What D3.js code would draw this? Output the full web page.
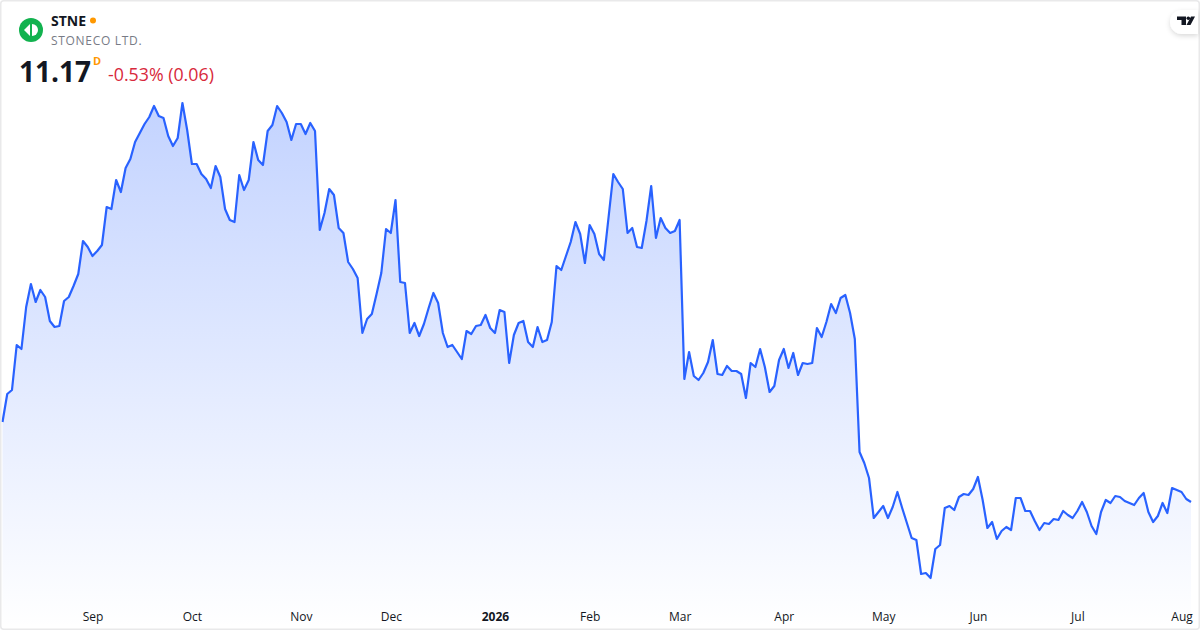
<!DOCTYPE html>
<html>
<head>
<meta charset="utf-8">
<script src="https://cdn.jsdelivr.net/npm/d3@7"></script>
<style>
  html, body { margin: 0; padding: 0; background: #fff; }
  svg { display: block; font-family: "Open Sans", sans-serif; }
</style>
</head>
<body>
<div id="chart"></div>
<script>
const prices = [
  12.77,13.33,13.41,14.31,14.23,15.07,15.53,15.17,15.41,15.27,14.79,14.67,14.69,15.19,15.27,15.49,15.73,16.39,16.27,16.09,
  16.19,16.31,17.07,17.03,17.61,17.37,17.85,18.03,18.37,18.55,18.73,18.87,19.09,18.89,18.85,18.49,18.29,18.45,19.15,18.61,
  17.93,17.93,17.73,17.63,17.45,17.89,17.67,17.03,16.81,16.77,17.71,17.41,17.61,18.37,18.01,17.91,18.59,18.71,19.09,18.95,
  18.77,18.41,18.73,18.73,18.53,18.75,18.59,16.61,16.95,17.43,17.31,16.65,16.55,15.97,15.83,15.65,14.55,14.83,14.93,15.33,
  15.75,16.63,16.55,17.21,
  15.57,15.55,14.55,14.75,14.49,14.73,15.05,15.35,15.15,14.55,14.27,14.31,14.17,14.03,14.59,14.53,14.69,14.71,14.91,14.65,
  14.55,15.01,14.97,13.95,14.51,14.75,14.79,14.37,14.27,14.67,14.37,14.41,14.77,15.89,15.81,16.09,16.37,16.77,16.53,15.95,
  16.71,16.53,16.13,16.01,16.87,17.73,17.57,17.43,16.55,16.65,16.27,16.25,16.79,17.49,16.45,16.85,16.65,16.55,16.59,16.81,
  13.63,14.17,13.69,13.61,13.75,13.97,14.41,13.73,13.71,13.89,13.79,13.79,13.73,13.25,13.95,13.87,14.23,13.87,13.37,13.49,
  14.01,14.23,13.85,14.15,13.71,
  13.95,13.93,13.95,14.65,14.47,14.77,15.13,14.95,15.25,15.31,14.95,14.43,12.17,11.95,11.65,10.85,10.97,11.09,10.85,11.07,
  11.37,11.05,10.75,10.45,10.41,9.73,9.75,9.65,10.23,10.31,11.05,11.09,11.01,11.27,11.33,11.31,11.43,11.67,11.21,10.65,
  10.77,10.43,10.59,10.67,10.61,11.25,11.25,10.99,10.99,10.79,10.61,10.75,10.73,10.83,10.81,10.99,10.91,10.85,10.99,11.17,
  10.97,10.69,10.53,10.97,11.21,11.15,11.29,11.27,11.19,11.15,11.11,11.25,11.35,10.97,10.77,10.89,11.15,10.95,11.45,11.41,
  11.37,11.23,11.17
];
const tickLabels = ["Sep","Oct","Nov","Dec","2026","Feb","Mar","Apr","May","Jun","Jul","Aug"];
const tickIndex = [19,40,63,82,104,124,143,165,186,206,227,249];

const width = 1200, height = 630;

const svg = d3.select("#chart").append("svg")
  .attr("width", width)
  .attr("height", height);

const x = d3.scaleLinear().domain([0, prices.length - 1]).range([2.5, 1191]);
const y = d3.scaleLinear().domain([8.61, 21.21]).range([630, 0]);

const defs = svg.append("defs");
const grad = defs.append("linearGradient")
  .attr("id", "fade")
  .attr("gradientUnits", "userSpaceOnUse")
  .attr("x1", 0).attr("x2", 0)
  .attr("y1", y(d3.max(prices))).attr("y2", 628);
grad.append("stop").attr("offset", 0).attr("stop-color", "#2962ff").attr("stop-opacity", 0.28);
grad.append("stop").attr("offset", 1).attr("stop-color", "#2962ff").attr("stop-opacity", 0);

// area + line
const area = d3.area().x((d, i) => x(i)).y0(628).y1(d => y(d));
const line = d3.line().x((d, i) => x(i)).y(d => y(d));

svg.append("path").datum(prices).attr("d", area).attr("fill", "url(#fade)");
svg.append("path").datum(prices).attr("d", line)
  .attr("fill", "none")
  .attr("stroke", "#2962ff")
  .attr("stroke-width", 2.2)
  .attr("stroke-linejoin", "round");

// month axis
const axis = d3.axisBottom(x)
  .tickValues(tickIndex)
  .tickFormat((d, i) => tickLabels[i])
  .tickSize(0)
  .tickPadding(0);

const axisG = svg.append("g").attr("transform", "translate(0,612.5)").call(axis);
axisG.select(".domain").remove();
axisG.selectAll("text")
  .attr("font-family", "'Open Sans', sans-serif")
  .attr("font-size", 12)
  .attr("fill", "#131722")
  .attr("font-weight", (d, i) => tickLabels[i] === "2026" ? 700 : 400);

// card border
svg.append("rect")
  .attr("x", 0.75).attr("y", 0.75)
  .attr("width", width - 1.5).attr("height", height - 1.5)
  .attr("rx", 3)
  .attr("fill", "none")
  .attr("stroke", "#e9e9ea")
  .attr("stroke-width", 1.5);

// header
const logo = svg.append("g").attr("transform", "translate(31,30)");
logo.append("circle").attr("r", 12).attr("fill", "#12b24f");
logo.append("path").attr("d", "M-7,0 L-1,-6 L-1,6 Z").attr("fill", "#fff");
logo.append("path").attr("d", "M1,-6 A6,6 0 0 1 1,6 Z").attr("fill", "#fff");

svg.append("text").attr("x", 51).attr("y", 26)
  .attr("font-size", 14).attr("font-weight", 700).attr("fill", "#131722").text("STNE");
svg.append("circle").attr("cx", 93).attr("cy", 20.5).attr("r", 3).attr("fill", "#ff9800");
svg.append("text").attr("x", 51).attr("y", 45)
  .attr("font-size", 12).attr("letter-spacing", 0.7).attr("fill", "#787b86").text("STONECO LTD.");
svg.append("text").attr("x", 19).attr("y", 82)
  .attr("font-size", 28).attr("font-weight", 700).attr("fill", "#131722").text("11.17");
svg.append("text").attr("x", 93).attr("y", 65)
  .attr("font-size", 11).attr("font-weight", 700).attr("fill", "#ff9800").text("D");
svg.append("text").attr("x", 108).attr("y", 81)
  .attr("font-size", 17.8).attr("fill", "#d8293c").text("-0.53% (0.06)");

// tradingview badge
const shadow = defs.append("filter").attr("id", "soft")
  .attr("x", "-30%").attr("y", "-30%").attr("width", "160%").attr("height", "170%");
shadow.append("feDropShadow").attr("dx", 0).attr("dy", 2).attr("stdDeviation", 2.5)
  .attr("flood-color", "#000").attr("flood-opacity", 0.15);
svg.append("path")
  .attr("d", "M1198,10 H1182 A12,12 0 0 0 1182,34 H1198 Z")
  .attr("fill", "#fff")
  .attr("filter", "url(#soft)");
svg.append("path")
  .attr("d", "M1177,16.5 H1186 V25 H1181.5 V20 H1177 Z")
  .attr("fill", "#131722");
svg.append("circle").attr("cx", 1188.3).attr("cy", 18.3).attr("r", 1.8).attr("fill", "#131722");
svg.append("path")
  .attr("d", "M1191,16.5 H1195 L1190.5,25 H1186.5 Z")
  .attr("fill", "#131722");
</script>
</body>
</html>
